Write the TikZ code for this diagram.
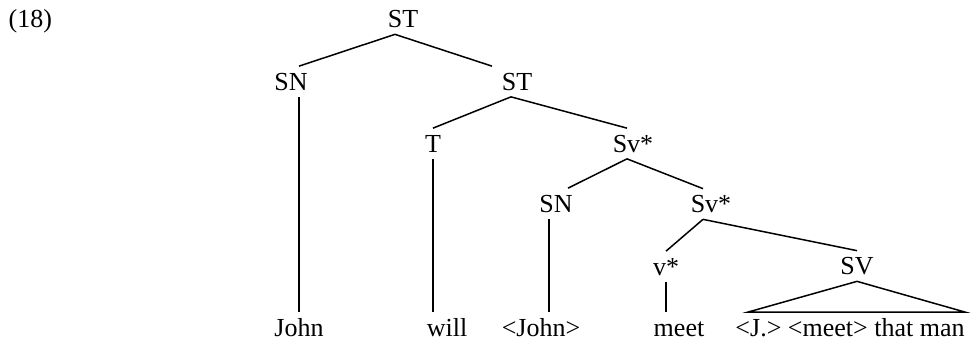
\documentclass[tikz,border=0pt]{standalone}
\usepackage{fontspec}
\setmainfont{Liberation Serif}
\begin{document}
\begin{tikzpicture}[x=1pt,y=-1pt,line width=1.5pt,
  font=\fontsize{26}{30}\selectfont,
  cat/.style={inner xsep=0pt,inner ysep=6pt,text height=17.2pt,text depth=0pt}]
\useasboundingbox (0,0) rectangle (977,349);
\node[cat,anchor=west] (ex) at (8,19) {(18)};
\node[cat] (st) at (403,19) {ST};
\node[cat] (sn) at (291,81.5) {SN};
\node[cat] (st2) at (517,81.5) {ST};
\node[cat] (t) at (433,143.5) {T};
\node[cat] (sva) at (633,143.5) {Sv*};
\node[cat] (snb) at (556,203.5) {SN};
\node[cat] (svb) at (711,204) {Sv*};
\node[cat] (vst) at (666,266.5) {v*};
\node[cat] (sv) at (857,266) {SV};
\node[cat] (john) at (299,327.5) {John};
\node[cat] (will) at (447,327.5) {will};
\node[cat] (johnb) at (541,327.5) {<John>};
\node[cat] (meet) at (679,327.5) {meet};
\node[cat] (rest) at (850,327.5) {<J.> <meet> that man};
\draw ([xshift=-8pt]st.south) -- ([xshift=8pt]sn.north);
\draw ([xshift=-8pt]st.south) -- ([xshift=-25pt]st2.north);
\draw (john.north) -- (john.north |- sn.south);
\draw ([xshift=-6pt]st2.south) -- (t.north);
\draw ([xshift=-6pt]st2.south) -- ([xshift=-6pt]sva.north);
\draw (t.south) -- (t.south |- will.north);
\draw ([xshift=-6pt]sva.south) -- ([xshift=12pt]snb.north);
\draw ([xshift=-6pt]sva.south) -- ([xshift=-8pt]svb.north);
\draw ([xshift=-7pt]snb.south) -- ([xshift=-7pt]snb.south |- johnb.north);
\draw ([xshift=-8pt]svb.south) -- (vst.north);
\draw ([xshift=-8pt]svb.south) -- (sv.north);
\draw (vst.south) -- (vst.south |- meet.north);
\draw ([xshift=13pt]rest.north west) -- (sv.south) -- (rest.north east) -- cycle;
\end{tikzpicture}
\end{document}
